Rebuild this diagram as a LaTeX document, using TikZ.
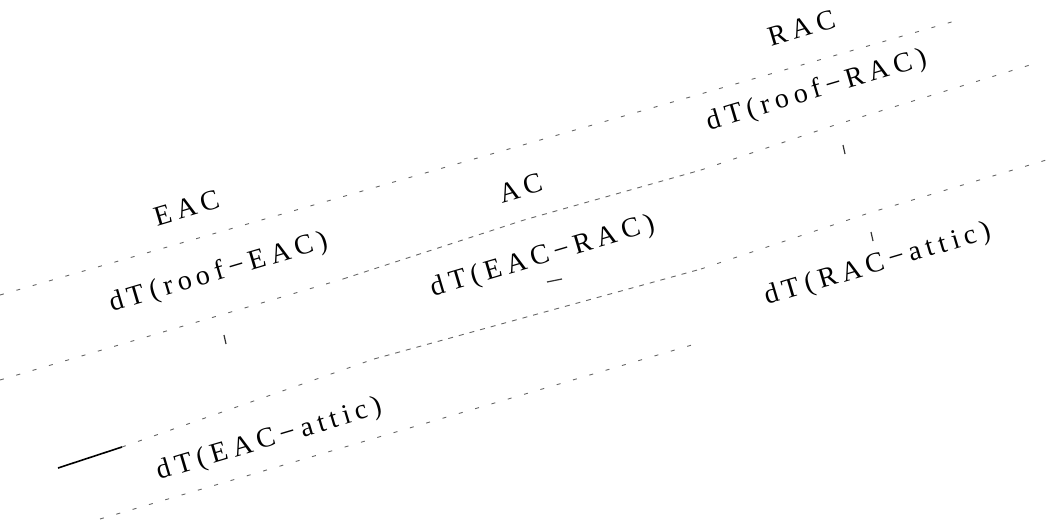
\documentclass[tikz,border=0pt]{standalone}
\usepackage{fontspec}
\newfontfamily\spaced{Liberation Serif}[LetterSpace=19]
\begin{document}
\begin{tikzpicture}[x=1pt,y=1pt,
  lbl/.style={font=\spaced\fontsize{28}{32}\selectfont, rotate=16.5, inner sep=0pt},
  rule/.style={draw=black!60, line width=0.9pt, dash pattern=on 4pt off 13pt},
  dense/.style={draw=black!60, line width=0.9pt, dash pattern=on 5pt off 6pt},
  solidrule/.style={draw=black, line width=1.6pt},
  tick/.style={draw=black!80, line width=1.2pt}]
\useasboundingbox (0,0) rectangle (1053,-524);
% labels
\node[lbl] (eac)      at (187,-208) {EAC};
\node[lbl] (roofeac)  at (219,-273) {dT(roof−EAC)};
\node[lbl] (ac)       at (521,-188) {AC};
\node[lbl] (eacrac)   at (543,-257) {dT(EAC−RAC)};
\node[lbl] (rac)      at (802,-28)  {RAC};
\node[lbl] (roofrac)  at (817,-91)  {dT(roof−RAC)};
\node[lbl] (racattic) at (878,-265) {dT(RAC−attic)};
\node[lbl] (eacattic) at (270,-440) {dT(EAC−attic)};
% rules
\coordinate (l1a) at (0,-295);
\coordinate (l1b) at (955,-21);
\draw[rule] (l1a) -- (l1b);
\coordinate (l2a) at (0,-380);
\coordinate (l2b) at (343,-279);
\coordinate (l2c) at (524,-220);
\coordinate (l2d) at (701,-170);
\coordinate (l2e) at (1030,-65);
\draw[rule] (l2a) -- (l2b);
\draw[dense] (l2b) -- (l2c) -- (l2d);
\draw[rule] (l2d) -- (835,-125) -- (965,-85) -- (l2e);
\coordinate (l3a) at (58,-468);
\coordinate (l3b) at (122,-447);
\coordinate (l3c) at (374,-359);
\coordinate (l3d) at (701,-269);
\coordinate (l3e) at (1053,-158);
\draw[solidrule] (l3a) -- (l3b);
\draw[rule] (l3b) -- (l3c);
\draw[dense] (l3c) -- (l3d);
\draw[rule] (l3d) -- (869,-213) -- (l3e);
\coordinate (l4a) at (100,-519);
\coordinate (l4b) at (702,-342);
\draw[rule] (l4a) -- (l4b);
% small ticks
\draw[tick] (843,-145) -- (845,-154);
\draw[tick] (871,-232) -- (873,-241);
\draw[tick] (224,-335) -- (226,-344);
\draw[tick] (547,-282) -- (562,-279);
\end{tikzpicture}
\end{document}
